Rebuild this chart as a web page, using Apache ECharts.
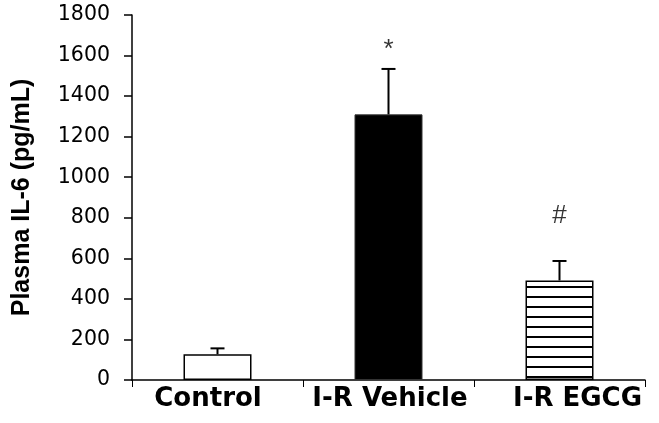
<!DOCTYPE html>
<html>
<head>
<meta charset="utf-8">
<script src="https://cdn.jsdelivr.net/npm/echarts@6/dist/echarts.min.js"></script>
<style>
html,body{margin:0;padding:0;background:#fff;}
#chart{width:659px;height:423px;}
</style>
</head>
<body>
<div id="chart"></div>
<script>
// ---- data ----
var categories = ['Control', 'I-R Vehicle', 'I-R EGCG'];
var means = [127, 1310, 491];
var errors = [29, 224, 96];
var annotations = ['', '*', '#'];
var annotationY = [null, 1627, 809];
var yTicks = [0, 200, 400, 600, 800, 1000, 1200, 1400, 1600, 1800];

// stripe pattern for EGCG bar
var tile = document.createElement('canvas');
tile.width = 10; tile.height = 10;
var tctx = tile.getContext('2d');
tctx.fillStyle = '#fff'; tctx.fillRect(0, 0, 10, 10);
tctx.fillStyle = '#000'; tctx.fillRect(0, 6, 10, 2);

var barStyles = [
  {color: '#fff', borderColor: '#000', borderWidth: 1.5},
  {color: '#000', borderColor: '#333', borderWidth: 1},
  {color: {image: tile, repeat: 'repeat'}, borderColor: '#000', borderWidth: 1.5}
];
// horizontal nudges of the category labels (padding [top,right,bottom,left])
var labelPads = [[0, 19, 0, 0], [0, 0, 0, 3], [0, 0, 0, 36]];

var barData = means.map(function (v, i) {
  return {value: v, itemStyle: barStyles[i]};
});
var catData = categories.map(function (c, i) {
  return {value: c, textStyle: {padding: labelPads[i]}};
});
var errData = means.map(function (v, i) { return [i, v, v + errors[i]]; });
var annData = [];
annotations.forEach(function (a, i) {
  if (a) annData.push({value: [i, annotationY[i]], label: {formatter: a}});
});

var chart = echarts.init(document.getElementById('chart'), null, {renderer: 'canvas'});
chart.setOption({
  animation: false,
  backgroundColor: '#fff',
  grid: {left: 132, right: 14, top: 15, bottom: 43, containLabel: false, outerBoundsMode: 'none'},
  xAxis: {
    type: 'category',
    data: catData,
    axisLine: {lineStyle: {color: '#000', width: 1.5}},
    axisTick: {show: true, length: 7, lineStyle: {color: '#000', width: 1}},
    axisLabel: {
      color: '#000', fontFamily: 'DejaVu Sans', fontWeight: 'bold', fontSize: 26,
      margin: 6, interval: 0
    }
  },
  yAxis: {
    type: 'value',
    min: yTicks[0], max: yTicks[yTicks.length - 1], interval: 200,
    name: 'Plasma IL-6 (pg/mL)',
    nameLocation: 'middle',
    nameGap: 97,
    nameTextStyle: {color: '#000', fontFamily: 'Liberation Sans', fontWeight: 'bold', fontSize: 25},
    axisLine: {show: true, lineStyle: {color: '#000', width: 1.5}},
    axisTick: {show: true, length: 8, lineStyle: {color: '#000', width: 1.5}},
    splitLine: {show: false},
    axisLabel: {
      color: '#000', fontFamily: 'DejaVu Sans', fontSize: 20.5, margin: 22,
      formatter: function (v) { return String(v); }
    }
  },
  series: [
    {
      type: 'bar',
      data: barData,
      barWidth: 68,
      z: 2
    },
    {
      type: 'custom',
      data: errData,
      z: 3,
      renderItem: function (params, api) {
        var x = api.value(0);
        var p0 = api.coord([x, api.value(1)]);
        var p1 = api.coord([x, api.value(2)]);
        var hw = 7;
        return {
          type: 'group',
          children: [
            {type: 'line', shape: {x1: p0[0], y1: p0[1], x2: p1[0], y2: p1[1]},
             style: {stroke: '#000', lineWidth: 2}},
            {type: 'line', shape: {x1: p1[0] - hw, y1: p1[1], x2: p1[0] + hw, y2: p1[1]},
             style: {stroke: '#000', lineWidth: 2}}
          ]
        };
      }
    },
    {
      type: 'scatter',
      data: annData,
      symbolSize: 0,
      z: 4,
      label: {
        show: true, position: 'inside', color: '#000',
        fontFamily: 'Liberation Sans', fontSize: 26
      }
    }
  ]
});
</script>
</body>
</html>
